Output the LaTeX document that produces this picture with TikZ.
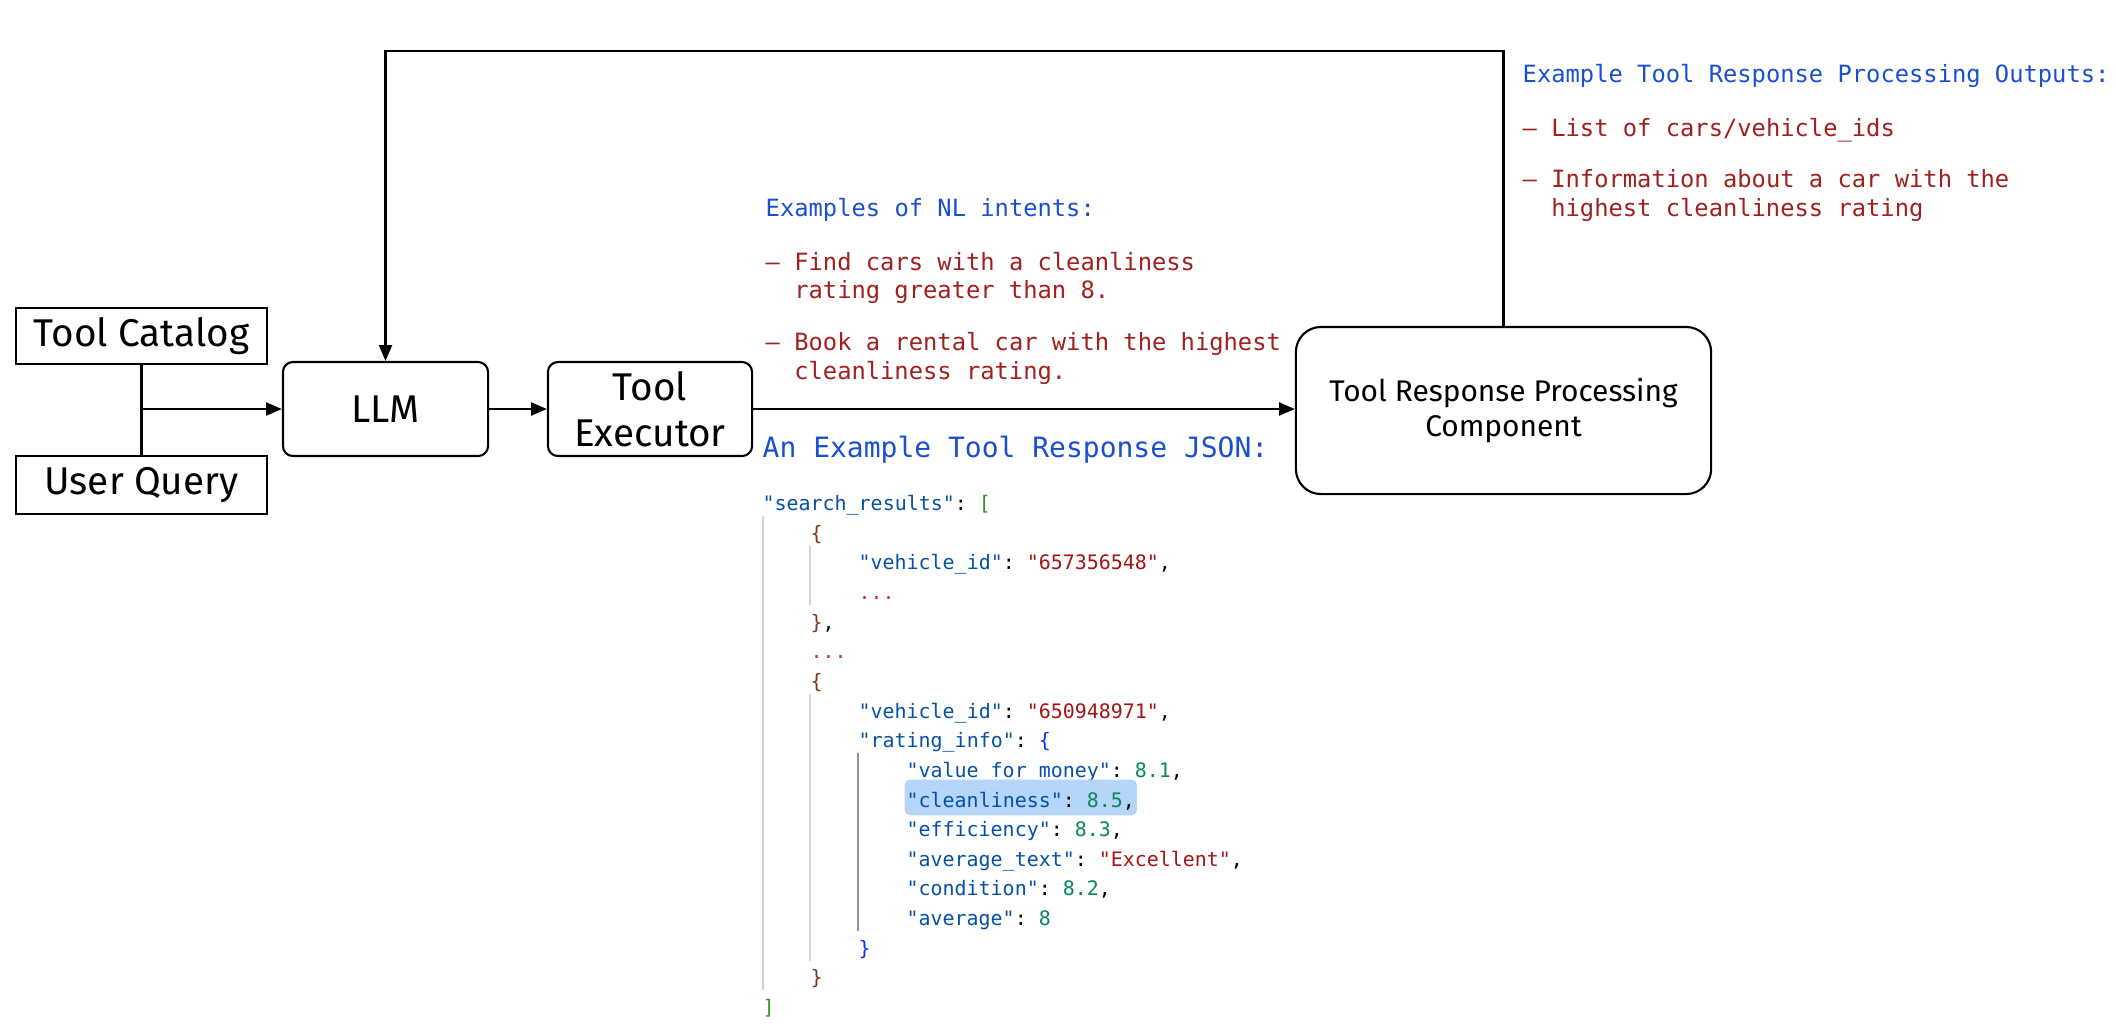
\documentclass[tikz,border=0pt]{standalone}
\usepackage{fontspec}
\setsansfont{Fira Sans}
\setmonofont{DejaVu Sans Mono}
\usetikzlibrary{arrows.meta, positioning, calc}

\definecolor{nlBlue}{HTML}{1A4FD0}
\definecolor{nlRed}{HTML}{A11F1F}
\definecolor{jKey}{HTML}{0451A5}
\definecolor{jStr}{HTML}{A31515}
\definecolor{jNum}{HTML}{098658}
\definecolor{jDots}{HTML}{CD3131}
\definecolor{jGreen}{HTML}{319331}
\definecolor{jBrown}{HTML}{7B3814}
\definecolor{jBlue}{HTML}{0431FA}
\definecolor{hlBlue}{HTML}{B5D5FB}
\definecolor{guideGray}{HTML}{D4D4D4}
\definecolor{guideDark}{HTML}{939393}

\newcommand{\jk}[1]{\textcolor{jKey}{"#1"}}
\newcommand{\js}[1]{\textcolor{jStr}{"#1"}}
\newcommand{\jn}[1]{\textcolor{jNum}{#1}}

\begin{document}
\begin{tikzpicture}[x=0.01cm, y=-0.01cm,
  box/.style={draw, line width=0.6pt, align=center, inner sep=0pt,
    font=\sffamily\fontsize{11}{13}\selectfont},
  rbox/.style={box, rounded corners=0.1cm},
  flow/.style={-{Triangle[length=4.5pt,width=3.7pt]}, line width=0.6pt},
  wire/.style={line width=0.6pt},
  note/.style={anchor=west, inner sep=0pt, text height=1.5ex, text depth=.25ex,
    font=\ttfamily\fontsize{6.76}{8}\selectfont},
  nlhead/.style={note, text=nlBlue},
  nlitem/.style={note, text=nlRed},
  code/.style={anchor=west, inner sep=0pt, text height=1.5ex, text depth=.25ex,
    font=\ttfamily\fontsize{5.67}{8}\selectfont},
  guide/.style={draw=guideGray, line width=0.55pt}]

  \useasboundingbox (0,0) rectangle (2116,1026);

  % Inputs and pipeline boxes
  \node[box, minimum width=2.51cm, minimum height=0.56cm] (catalog) at (141.5,336) {Tool Catalog};
  \node[box, minimum width=2.51cm, minimum height=0.58cm] (query) at (141.5,485) {User Query};
  \node[rbox, minimum width=2.05cm, minimum height=0.94cm] (llm) at (385.5,409) {LLM};
  \node[rbox, minimum width=2.04cm, minimum height=0.94cm] (exec) at (650,409) {Tool\\Executor};
  \node[rbox, rounded corners=0.25cm, minimum width=4.15cm, minimum height=1.67cm,
    font=\sffamily\fontsize{8.5}{10}\selectfont] (trpc) at (1503.5,410.5)
    {Tool Response Processing\\Component};

  % Connectors
  \coordinate (fbtop) at (0,51);
  \draw[wire] (catalog.south) -- (query.north);
  \draw[flow] (catalog.south |- llm.west) -- (llm.west);
  \draw[flow] (llm.east) -- (exec.west);
  \draw[flow] (exec.east) -- (exec.east -| trpc.west);
  \draw[flow] (trpc.north) |- (llm.north |- fbtop) -- (llm.north);

  % NL intents
  \node[nlhead] (nlh) at (765,207) {Examples of NL intents:};
  \node[nlitem] (nl1) at (765,261) {– Find cars with a cleanliness};
  \node[nlitem] (nl1b) at (793.6,289) {rating greater than 8.};
  \node[nlitem] (nl2) at (765,341) {– Book a rental car with the highest};
  \node[nlitem] (nl2b) at (793.6,370) {cleanliness rating.};

  % Processing outputs
  \node[nlhead] (outh) at (1522,73) {Example Tool Response Processing Outputs:};
  \node[nlitem] (out1) at (1522,127) {– List of cars/vehicle\_ids};
  \node[nlitem] (out2) at (1522,178) {– Information about a car with the};
  \node[nlitem] (out2b) at (1550.6,207) {highest cleanliness rating};

  % JSON example
  \node[note, text=nlBlue, font=\ttfamily\fontsize{7.96}{9}\selectfont] (jh) at (762,448)
    {An Example Tool Response JSON:};

  \draw[guide] (763,515.8) -- (763,990.2);
  \draw[guide] (810,545.5) -- (810,604.8);
  \draw[guide] (810,693.7) -- (810,960.6);
  \draw[guide, draw=guideDark] (858,753) -- (858,930.9);

  \node[code] (j0) at (762,501) {\jk{search\_results}: \textcolor{jGreen}{[}};
  \node[code] (j1) at (810,530.65) {\textcolor{jBrown}{\{}};
  \node[code] (j2) at (858,560.3) {\jk{vehicle\_id}: \js{657356548},};
  \node[code] (j3) at (858,589.95) {\textcolor{jDots}{...}};
  \node[code] (j4) at (810,619.6) {\textcolor{jBrown}{\}},};
  \node[code] (j5) at (810,649.25) {\textcolor{jDots}{...}};
  \node[code] (j6) at (810,678.9) {\textcolor{jBrown}{\{}};
  \node[code] (j7) at (858,708.55) {\jk{vehicle\_id}: \js{650948971},};
  \node[code] (j8) at (858,738.2) {\jk{rating\_info}: \textcolor{jBlue}{\{}};
  \node[code] (j9) at (906,767.85) {\jk{value\_for\_money}: \jn{8.1},};
  \node[code, fill=hlBlue, rounded corners=1.5pt, inner xsep=0.6pt, inner ysep=1.3pt]
    (j10) at (903.9,797.5) {\jk{cleanliness}: \jn{8.5},};
  \node[code] (j11) at (906,827.15) {\jk{efficiency}: \jn{8.3},};
  \node[code] (j12) at (906,856.8) {\jk{average\_text}: \js{Excellent},};
  \node[code] (j13) at (906,886.45) {\jk{condition}: \jn{8.2},};
  \node[code] (j14) at (906,916.1) {\jk{average}: \jn{8}};
  \node[code] (j15) at (858,945.75) {\textcolor{jBlue}{\}}};
  \node[code] (j16) at (810,975.4) {\textcolor{jBrown}{\}}};
  \node[code] (j17) at (762,1005.05) {\textcolor{jGreen}{]}};
\end{tikzpicture}
\end{document}
